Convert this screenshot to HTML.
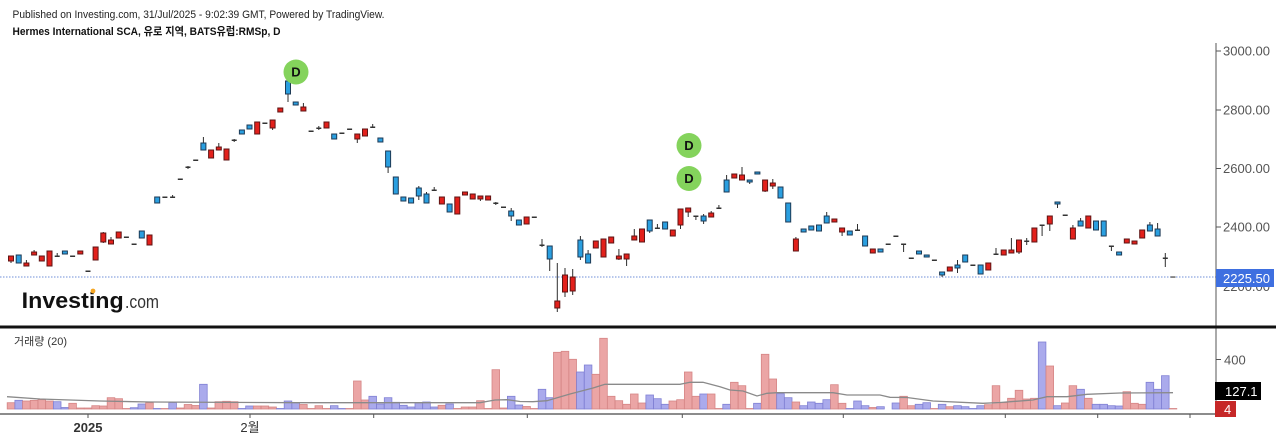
<!DOCTYPE html>
<html><head><meta charset="utf-8">
<style>
html,body{margin:0;padding:0;background:#fff;}
svg{display:block;}
.t{font-family:"Liberation Sans","Noto Sans CJK KR",sans-serif;}
.w{stroke:#2e2e2e;stroke-width:1;fill:none;}
.r{fill:#e3201b;stroke:#5e1414;stroke-width:1;}
.b{fill:#2a9fe0;stroke:#1d3a55;stroke-width:1;}
.d{fill:#333;}
.vr{fill:#eba5a5;stroke:#d58585;stroke-width:0.8;}
.vb{fill:#aaaaec;stroke:#8080d4;stroke-width:0.8;}
.lab{font-size:13px;fill:#555;}
</style></head>
<body>
<svg width="1280" height="440" viewBox="0 0 1280 440" xmlns="http://www.w3.org/2000/svg">
<rect width="1280" height="440" fill="#fff"/>
<!-- header -->
<text class="t" x="12.5" y="18" font-size="11" fill="#222" textLength="372" lengthAdjust="spacingAndGlyphs">Published on Investing.com, 31/Jul/2025 - 9:02:39 GMT, Powered by TradingView.</text>
<text class="t" x="12.5" y="35" font-size="11" font-weight="bold" fill="#111" textLength="268" lengthAdjust="spacingAndGlyphs">Hermes International SCA, 유로 지역, BATS유럽:RMSp, D</text>

<!-- dotted last price line -->
<line x1="0" y1="277" x2="1216" y2="277" stroke="#6f8fd8" stroke-width="1" stroke-dasharray="1.5,1.5"/>

<!-- logo -->
<text class="t" x="21.7" y="308" font-size="22" font-weight="bold" fill="#111" textLength="102" lengthAdjust="spacingAndGlyphs">Investing</text>
<text class="t" x="125" y="308" font-size="18" fill="#333" textLength="34" lengthAdjust="spacingAndGlyphs">.com</text>
<circle cx="93" cy="291" r="2.4" fill="#f5a623"/>

<!-- wicks -->
<path class="w" d="M11 256V263M18.7 255V263M26.4 260V266M34.1 250V255M41.8 256V261M49.5 251V266M57.2 253V257M64.9 251V254M80.3 251V254M95.6 247V260M103.3 232V243M111 237V244M118.7 232V238M141.8 231V238M149.5 235V245M157.2 197V203M172.6 195V197M188 166V169M203.4 137V150M211.1 150V158M218.8 143V150M226.5 149V160M234.2 139V142M241.9 130V134M249.5 125V129M257.2 122V134M272.6 120V130M280.3 108V112M288 81V102M295.7 102V105M303.4 103V111M318.8 126V130M326.5 122V128M334.2 134V139M357.3 134V143M365 129V136M372.7 124V128M380.4 138V142M388.1 151V173M395.8 177V194M403.4 197V201M411.1 198V203M418.8 186V200M426.5 192V203M434.2 187V190M441.9 197V204M449.6 204V212M457.3 197V214M465 192V195M472.7 194V199M480.4 196V201M488.1 196V200M495.8 202V205M511.2 208V221M518.9 220V225M526.6 217V224M542 239V247M549.7 246V271M557.3 263V312M565 268V297M572.7 269V295M580.4 236V260M588.1 250V263M595.8 241V248M603.5 239V257M611.2 237V243M618.9 249V260M626.6 254V266M634.3 229V240M642 229V242M649.7 220V233M657.4 224V228M665.1 222V229M672.8 230V236M680.5 209V229M688.2 208V217M695.9 216V220M703.6 214V224M711.2 211V217M718.9 205V208M726.6 175V192M734.3 174V178M742 167V180M749.7 180V184M757.4 172V174M765.1 180V192M772.8 179V189M780.5 187V198M788.2 203V222M795.9 237V251M803.6 229V232M811.3 226V230M819 225V231M826.7 212V223M834.4 219V222M842.1 228V236M849.8 231V235M857.5 224V230M865.1 236V246M872.8 249V253M880.5 249V252M903.6 244V252M919 251V254M926.7 255V257M942.1 272V277M949.8 267V271M957.5 260V273M965.2 255V262M980.6 265V274M988.3 263V270M996 248V254M1003.7 250V255M1011.4 238V253M1019 240V254M1026.7 238V245M1034.4 228V242M1042.1 225V236M1049.8 216V231M1057.5 202V208M1072.9 225V239M1080.6 218V226M1088.3 216V228M1096 221V230M1103.7 221V236M1111.4 246V251M1119.1 252V255M1126.8 239V243M1134.5 241V244M1142.2 230V238M1149.9 222V231M1157.6 223V236M1165.3 253V267"/>

<!-- bodies -->
<g>
<rect class="r" x="8.5" y="256" width="5" height="5"/>
<rect class="b" x="16.2" y="255" width="5" height="8"/>
<rect class="r" x="23.9" y="263" width="5" height="3"/>
<rect class="r" x="31.6" y="252" width="5" height="3"/>
<rect class="r" x="39.3" y="256" width="5" height="5"/>
<rect class="r" x="47" y="251" width="5" height="15"/>
<rect class="d" x="54.7" y="255.5" width="5" height="1.5"/>
<rect class="b" x="62.4" y="251" width="5" height="3"/>
<rect class="d" x="70.1" y="255.5" width="5" height="1.5"/>
<rect class="r" x="77.8" y="251" width="5" height="3"/>
<rect class="d" x="85.5" y="270.5" width="5" height="1.5"/>
<rect class="r" x="93.1" y="247" width="5" height="13"/>
<rect class="r" x="100.8" y="233" width="5" height="9"/>
<rect class="r" x="108.5" y="240" width="5" height="4"/>
<rect class="r" x="116.2" y="232" width="5" height="6"/>
<rect class="d" x="123.9" y="236.5" width="5" height="1.5"/>
<rect class="d" x="131.6" y="243.5" width="5" height="1.5"/>
<rect class="b" x="139.3" y="231" width="5" height="7"/>
<rect class="r" x="147" y="235" width="5" height="10"/>
<rect class="b" x="154.7" y="197" width="5" height="6"/>
<rect class="d" x="162.4" y="196.5" width="5" height="1.5"/>
<rect class="d" x="170.1" y="196.5" width="5" height="1.5"/>
<rect class="d" x="177.8" y="178.5" width="5" height="1.5"/>
<rect class="d" x="185.5" y="166.5" width="5" height="1.5"/>
<rect class="d" x="193.2" y="159.5" width="5" height="1.5"/>
<rect class="b" x="200.9" y="143" width="5" height="7"/>
<rect class="r" x="208.6" y="150" width="5" height="8"/>
<rect class="r" x="216.3" y="147" width="5" height="3"/>
<rect class="r" x="224" y="149" width="5" height="11"/>
<rect class="d" x="231.7" y="139.5" width="5" height="1.5"/>
<rect class="b" x="239.4" y="130" width="5" height="4"/>
<rect class="b" x="247" y="125" width="5" height="4"/>
<rect class="r" x="254.7" y="122" width="5" height="12"/>
<rect class="d" x="262.4" y="122.5" width="5" height="1.5"/>
<rect class="r" x="270.1" y="120" width="5" height="8"/>
<rect class="r" x="277.8" y="108" width="5" height="4"/>
<rect class="b" x="285.5" y="81" width="5" height="13"/>
<rect class="b" x="293.2" y="102" width="5" height="3"/>
<rect class="r" x="300.9" y="107" width="5" height="4"/>
<rect class="d" x="308.6" y="130.5" width="5" height="1.5"/>
<rect class="d" x="316.3" y="127.5" width="5" height="1.5"/>
<rect class="r" x="324" y="122" width="5" height="6"/>
<rect class="b" x="331.7" y="134" width="5" height="5"/>
<rect class="d" x="339.4" y="132.5" width="5" height="1.5"/>
<rect class="d" x="347.1" y="128.5" width="5" height="1.5"/>
<rect class="r" x="354.8" y="134" width="5" height="5"/>
<rect class="r" x="362.5" y="129" width="5" height="7"/>
<rect class="d" x="370.2" y="126.5" width="5" height="1.5"/>
<rect class="b" x="377.9" y="138" width="5" height="4"/>
<rect class="b" x="385.6" y="151" width="5" height="16"/>
<rect class="b" x="393.3" y="177" width="5" height="17"/>
<rect class="b" x="400.9" y="197" width="5" height="4"/>
<rect class="b" x="408.6" y="198" width="5" height="5"/>
<rect class="b" x="416.3" y="188" width="5" height="8"/>
<rect class="b" x="424" y="194" width="5" height="9"/>
<rect class="d" x="431.7" y="189.5" width="5" height="1.5"/>
<rect class="r" x="439.4" y="197" width="5" height="7"/>
<rect class="b" x="447.1" y="204" width="5" height="8"/>
<rect class="r" x="454.8" y="197" width="5" height="17"/>
<rect class="r" x="462.5" y="192" width="5" height="3"/>
<rect class="r" x="470.2" y="194" width="5" height="5"/>
<rect class="r" x="477.9" y="196" width="5" height="3"/>
<rect class="r" x="485.6" y="196" width="5" height="4"/>
<rect class="d" x="493.3" y="202.5" width="5" height="1.5"/>
<rect class="d" x="501" y="206.5" width="5" height="1.5"/>
<rect class="b" x="508.7" y="211" width="5" height="5"/>
<rect class="b" x="516.4" y="220" width="5" height="5"/>
<rect class="r" x="524.1" y="217" width="5" height="7"/>
<rect class="d" x="531.8" y="216.5" width="5" height="1.5"/>
<rect class="d" x="539.5" y="244.5" width="5" height="1.5"/>
<rect class="b" x="547.2" y="246" width="5" height="13"/>
<rect class="r" x="554.8" y="301" width="5" height="7"/>
<rect class="r" x="562.5" y="275" width="5" height="17"/>
<rect class="r" x="570.2" y="277" width="5" height="14"/>
<rect class="b" x="577.9" y="240" width="5" height="17"/>
<rect class="b" x="585.6" y="254" width="5" height="9"/>
<rect class="r" x="593.3" y="241" width="5" height="7"/>
<rect class="r" x="601" y="239" width="5" height="18"/>
<rect class="r" x="608.7" y="237" width="5" height="6"/>
<rect class="r" x="616.4" y="256" width="5" height="3"/>
<rect class="r" x="624.1" y="254" width="5" height="5"/>
<rect class="r" x="631.8" y="236" width="5" height="4"/>
<rect class="r" x="639.5" y="229" width="5" height="13"/>
<rect class="b" x="647.2" y="220" width="5" height="11"/>
<rect class="d" x="654.9" y="227.5" width="5" height="1.5"/>
<rect class="b" x="662.6" y="222" width="5" height="7"/>
<rect class="r" x="670.3" y="230" width="5" height="6"/>
<rect class="r" x="678" y="209" width="5" height="16"/>
<rect class="r" x="685.7" y="208" width="5" height="4"/>
<rect class="d" x="693.4" y="215.5" width="5" height="1.5"/>
<rect class="b" x="701.1" y="216" width="5" height="5"/>
<rect class="r" x="708.7" y="213" width="5" height="4"/>
<rect class="d" x="716.4" y="207.5" width="5" height="1.5"/>
<rect class="b" x="724.1" y="180" width="5" height="12"/>
<rect class="r" x="731.8" y="174" width="5" height="4"/>
<rect class="r" x="739.5" y="175" width="5" height="5"/>
<rect class="b" x="747.2" y="180" width="5" height="2"/>
<rect class="b" x="754.9" y="172" width="5" height="2"/>
<rect class="r" x="762.6" y="180" width="5" height="11"/>
<rect class="r" x="770.3" y="183" width="5" height="3"/>
<rect class="b" x="778" y="187" width="5" height="11"/>
<rect class="b" x="785.7" y="203" width="5" height="19"/>
<rect class="r" x="793.4" y="239" width="5" height="12"/>
<rect class="b" x="801.1" y="229" width="5" height="3"/>
<rect class="b" x="808.8" y="226" width="5" height="4"/>
<rect class="b" x="816.5" y="225" width="5" height="6"/>
<rect class="b" x="824.2" y="216" width="5" height="7"/>
<rect class="r" x="831.9" y="219" width="5" height="3"/>
<rect class="r" x="839.6" y="228" width="5" height="4"/>
<rect class="b" x="847.3" y="231" width="5" height="4"/>
<rect class="d" x="855" y="229.5" width="5" height="1.5"/>
<rect class="b" x="862.6" y="236" width="5" height="10"/>
<rect class="r" x="870.3" y="249" width="5" height="4"/>
<rect class="b" x="878" y="249" width="5" height="3"/>
<rect class="d" x="885.7" y="243.5" width="5" height="1.5"/>
<rect class="d" x="893.4" y="235.5" width="5" height="1.5"/>
<rect class="d" x="901.1" y="243.5" width="5" height="1.5"/>
<rect class="d" x="908.8" y="257.5" width="5" height="1.5"/>
<rect class="b" x="916.5" y="251" width="5" height="3"/>
<rect class="b" x="924.2" y="255" width="5" height="2"/>
<rect class="d" x="931.9" y="259.5" width="5" height="1.5"/>
<rect class="b" x="939.6" y="272" width="5" height="3"/>
<rect class="r" x="947.3" y="267" width="5" height="4"/>
<rect class="b" x="955" y="265" width="5" height="3"/>
<rect class="b" x="962.7" y="255" width="5" height="7"/>
<rect class="d" x="970.4" y="264.5" width="5" height="1.5"/>
<rect class="b" x="978.1" y="265" width="5" height="9"/>
<rect class="r" x="985.8" y="263" width="5" height="7"/>
<rect class="d" x="993.5" y="253.5" width="5" height="1.5"/>
<rect class="r" x="1001.2" y="250" width="5" height="5"/>
<rect class="r" x="1008.9" y="250" width="5" height="3"/>
<rect class="r" x="1016.5" y="240" width="5" height="12"/>
<rect class="d" x="1024.2" y="240.5" width="5" height="1.5"/>
<rect class="r" x="1031.9" y="228" width="5" height="14"/>
<rect class="d" x="1039.6" y="224.5" width="5" height="1.5"/>
<rect class="r" x="1047.3" y="216" width="5" height="8"/>
<rect class="b" x="1055" y="202" width="5" height="2"/>
<rect class="d" x="1062.7" y="214.5" width="5" height="1.5"/>
<rect class="r" x="1070.4" y="228" width="5" height="11"/>
<rect class="b" x="1078.1" y="221" width="5" height="5"/>
<rect class="r" x="1085.8" y="216" width="5" height="12"/>
<rect class="b" x="1093.5" y="221" width="5" height="9"/>
<rect class="b" x="1101.2" y="221" width="5" height="15"/>
<rect class="d" x="1108.9" y="245.5" width="5" height="1.5"/>
<rect class="b" x="1116.6" y="252" width="5" height="3"/>
<rect class="r" x="1124.3" y="239" width="5" height="4"/>
<rect class="r" x="1132" y="241" width="5" height="3"/>
<rect class="r" x="1139.7" y="230" width="5" height="8"/>
<rect class="b" x="1147.4" y="225" width="5" height="6"/>
<rect class="b" x="1155.1" y="229" width="5" height="7"/>
<rect class="d" x="1162.8" y="257.5" width="5" height="1.5"/>
<rect x="1170.5" y="276.3" width="5" height="1.5" fill="#666"/>
</g>

<!-- D markers -->
<circle cx="296" cy="72" r="12.5" fill="#84d35c"/>
<text class="t" x="296" y="76.5" font-size="13" font-weight="bold" fill="#111" text-anchor="middle">D</text>
<circle cx="689" cy="145.5" r="12.5" fill="#84d35c"/>
<text class="t" x="689" y="150" font-size="13" font-weight="bold" fill="#111" text-anchor="middle">D</text>
<circle cx="689" cy="178.5" r="12.5" fill="#84d35c"/>
<text class="t" x="689" y="183" font-size="13" font-weight="bold" fill="#111" text-anchor="middle">D</text>

<!-- price axis -->
<line x1="1216" y1="43" x2="1216" y2="414" stroke="#555" stroke-width="1"/>
<path d="M1216 51H1221M1216 110H1221M1216 168.5H1221M1216 227H1221M1216 286H1221" stroke="#555" stroke-width="1"/>
<text class="t lab" x="1223" y="55.5">3000.00</text>
<text class="t lab" x="1223" y="114.5">2800.00</text>
<text class="t lab" x="1223" y="173">2600.00</text>
<text class="t lab" x="1223" y="231.5">2400.00</text>
<text class="t lab" x="1223" y="291">2200.00</text>
<rect x="1216" y="269" width="58" height="18" fill="#3e6fe0"/>
<text class="t" x="1223" y="283" font-size="13" fill="#fff">2225.50</text>

<!-- separator -->
<rect x="0" y="325.5" width="1276" height="3" fill="#111"/>

<!-- volume pane -->
<text class="t" x="14" y="345" font-size="11" fill="#333">거래량 (20)</text>
<g>
<rect class="vr" x="7.2" y="402.7" width="7.6" height="6.3"/>
<rect class="vb" x="14.9" y="400.3" width="7.6" height="8.7"/>
<rect class="vr" x="22.6" y="401" width="7.6" height="8"/>
<rect class="vr" x="30.3" y="400.3" width="7.6" height="8.7"/>
<rect class="vr" x="38" y="399.7" width="7.6" height="9.3"/>
<rect class="vr" x="45.7" y="401" width="7.6" height="8"/>
<rect class="vb" x="53.4" y="401.7" width="7.6" height="7.3"/>
<rect class="vb" x="61.1" y="407.5" width="7.6" height="1.5"/>
<rect class="vr" x="68.8" y="403.3" width="7.6" height="5.7"/>
<rect class="vr" x="76.5" y="408" width="7.6" height="1"/>
<rect class="vr" x="84.2" y="408" width="7.6" height="1"/>
<rect class="vr" x="91.8" y="405.7" width="7.6" height="3.3"/>
<rect class="vr" x="99.5" y="406" width="7.6" height="3"/>
<rect class="vr" x="107.2" y="397.7" width="7.6" height="11.3"/>
<rect class="vr" x="114.9" y="398.7" width="7.6" height="10.3"/>
<rect class="vr" x="122.6" y="408.5" width="7.6" height="0.5"/>
<rect class="vb" x="130.3" y="407.7" width="7.6" height="1.3"/>
<rect class="vb" x="138" y="404" width="7.6" height="5"/>
<rect class="vr" x="145.7" y="402.7" width="7.6" height="6.3"/>
<rect class="vb" x="153.4" y="408.5" width="7.6" height="0.5"/>
<rect class="vr" x="161.1" y="408.5" width="7.6" height="0.5"/>
<rect class="vb" x="168.8" y="402.5" width="7.6" height="6.5"/>
<rect class="vr" x="176.5" y="408" width="7.6" height="1"/>
<rect class="vr" x="184.2" y="404.5" width="7.6" height="4.5"/>
<rect class="vr" x="191.9" y="405.5" width="7.6" height="3.5"/>
<rect class="vb" x="199.6" y="384.3" width="7.6" height="24.7"/>
<rect class="vr" x="207.3" y="408" width="7.6" height="1"/>
<rect class="vr" x="215" y="401.7" width="7.6" height="7.3"/>
<rect class="vr" x="222.7" y="401.3" width="7.6" height="7.7"/>
<rect class="vr" x="230.4" y="401.7" width="7.6" height="7.3"/>
<rect class="vb" x="238.1" y="408.5" width="7.6" height="0.5"/>
<rect class="vb" x="245.7" y="406" width="7.6" height="3"/>
<rect class="vr" x="253.4" y="406" width="7.6" height="3"/>
<rect class="vr" x="261.1" y="406" width="7.6" height="3"/>
<rect class="vr" x="268.8" y="407" width="7.6" height="2"/>
<rect class="vb" x="276.5" y="408.5" width="7.6" height="0.5"/>
<rect class="vb" x="284.2" y="401" width="7.6" height="8"/>
<rect class="vb" x="291.9" y="402.5" width="7.6" height="6.5"/>
<rect class="vr" x="299.6" y="404.5" width="7.6" height="4.5"/>
<rect class="vr" x="307.3" y="408.5" width="7.6" height="0.5"/>
<rect class="vr" x="315" y="405.7" width="7.6" height="3.3"/>
<rect class="vr" x="322.7" y="408.5" width="7.6" height="0.5"/>
<rect class="vb" x="330.4" y="405.7" width="7.6" height="3.3"/>
<rect class="vb" x="338.1" y="408.5" width="7.6" height="0.5"/>
<rect class="vr" x="345.8" y="408.5" width="7.6" height="0.5"/>
<rect class="vr" x="353.5" y="381" width="7.6" height="28"/>
<rect class="vr" x="361.2" y="400" width="7.6" height="9"/>
<rect class="vb" x="368.9" y="396.3" width="7.6" height="12.7"/>
<rect class="vb" x="376.6" y="404" width="7.6" height="5"/>
<rect class="vb" x="384.3" y="397.7" width="7.6" height="11.3"/>
<rect class="vb" x="392" y="402.3" width="7.6" height="6.7"/>
<rect class="vb" x="399.6" y="405.3" width="7.6" height="3.7"/>
<rect class="vb" x="407.3" y="407" width="7.6" height="2"/>
<rect class="vb" x="415" y="402.7" width="7.6" height="6.3"/>
<rect class="vb" x="422.7" y="402" width="7.6" height="7"/>
<rect class="vb" x="430.4" y="407" width="7.6" height="2"/>
<rect class="vr" x="438.1" y="405.3" width="7.6" height="3.7"/>
<rect class="vb" x="445.8" y="404" width="7.6" height="5"/>
<rect class="vr" x="453.5" y="408.5" width="7.6" height="0.5"/>
<rect class="vr" x="461.2" y="407" width="7.6" height="2"/>
<rect class="vr" x="468.9" y="407" width="7.6" height="2"/>
<rect class="vr" x="476.6" y="400.7" width="7.6" height="8.3"/>
<rect class="vr" x="484.3" y="408.5" width="7.6" height="0.5"/>
<rect class="vr" x="492" y="369.7" width="7.6" height="39.3"/>
<rect class="vr" x="499.7" y="408" width="7.6" height="1"/>
<rect class="vb" x="507.4" y="396.3" width="7.6" height="12.7"/>
<rect class="vb" x="515.1" y="405" width="7.6" height="4"/>
<rect class="vr" x="522.8" y="406.5" width="7.6" height="2.5"/>
<rect class="vr" x="530.5" y="408.5" width="7.6" height="0.5"/>
<rect class="vb" x="538.2" y="389.3" width="7.6" height="19.7"/>
<rect class="vb" x="545.9" y="397.7" width="7.6" height="11.3"/>
<rect class="vr" x="553.5" y="352.3" width="7.6" height="56.7"/>
<rect class="vr" x="561.2" y="351.3" width="7.6" height="57.7"/>
<rect class="vr" x="568.9" y="359.3" width="7.6" height="49.7"/>
<rect class="vb" x="576.6" y="372" width="7.6" height="37"/>
<rect class="vb" x="584.3" y="365" width="7.6" height="44"/>
<rect class="vr" x="592" y="374.3" width="7.6" height="34.7"/>
<rect class="vr" x="599.7" y="338.3" width="7.6" height="70.7"/>
<rect class="vr" x="607.4" y="396.3" width="7.6" height="12.7"/>
<rect class="vr" x="615.1" y="400.7" width="7.6" height="8.3"/>
<rect class="vr" x="622.8" y="404.3" width="7.6" height="4.7"/>
<rect class="vr" x="630.5" y="394" width="7.6" height="15"/>
<rect class="vr" x="638.2" y="403" width="7.6" height="6"/>
<rect class="vb" x="645.9" y="395" width="7.6" height="14"/>
<rect class="vb" x="653.6" y="398.7" width="7.6" height="10.3"/>
<rect class="vb" x="661.3" y="404.3" width="7.6" height="4.7"/>
<rect class="vr" x="669" y="401" width="7.6" height="8"/>
<rect class="vr" x="676.7" y="399.7" width="7.6" height="9.3"/>
<rect class="vr" x="684.4" y="372" width="7.6" height="37"/>
<rect class="vr" x="692.1" y="396.3" width="7.6" height="12.7"/>
<rect class="vb" x="699.8" y="394" width="7.6" height="15"/>
<rect class="vr" x="707.4" y="394" width="7.6" height="15"/>
<rect class="vr" x="715.1" y="408.5" width="7.6" height="0.5"/>
<rect class="vb" x="722.8" y="404.3" width="7.6" height="4.7"/>
<rect class="vr" x="730.5" y="382.3" width="7.6" height="26.7"/>
<rect class="vr" x="738.2" y="385.7" width="7.6" height="23.3"/>
<rect class="vr" x="745.9" y="408.5" width="7.6" height="0.5"/>
<rect class="vb" x="753.6" y="403.3" width="7.6" height="5.7"/>
<rect class="vr" x="761.3" y="354.3" width="7.6" height="54.7"/>
<rect class="vr" x="769" y="379" width="7.6" height="30"/>
<rect class="vb" x="776.7" y="393.7" width="7.6" height="15.3"/>
<rect class="vb" x="784.4" y="397.7" width="7.6" height="11.3"/>
<rect class="vr" x="792.1" y="402" width="7.6" height="7"/>
<rect class="vb" x="799.8" y="405.7" width="7.6" height="3.3"/>
<rect class="vb" x="807.5" y="402" width="7.6" height="7"/>
<rect class="vb" x="815.2" y="403.3" width="7.6" height="5.7"/>
<rect class="vb" x="822.9" y="399.7" width="7.6" height="9.3"/>
<rect class="vr" x="830.6" y="384.7" width="7.6" height="24.3"/>
<rect class="vr" x="838.3" y="403.3" width="7.6" height="5.7"/>
<rect class="vb" x="846" y="408.5" width="7.6" height="0.5"/>
<rect class="vb" x="853.7" y="401" width="7.6" height="8"/>
<rect class="vb" x="861.3" y="405.7" width="7.6" height="3.3"/>
<rect class="vr" x="869" y="407.5" width="7.6" height="1.5"/>
<rect class="vb" x="876.7" y="406.7" width="7.6" height="2.3"/>
<rect class="vb" x="892.1" y="403" width="7.6" height="6"/>
<rect class="vr" x="899.8" y="396.3" width="7.6" height="12.7"/>
<rect class="vr" x="907.5" y="405.7" width="7.6" height="3.3"/>
<rect class="vb" x="915.2" y="404.3" width="7.6" height="4.7"/>
<rect class="vb" x="922.9" y="402.7" width="7.6" height="6.3"/>
<rect class="vr" x="930.6" y="408.5" width="7.6" height="0.5"/>
<rect class="vb" x="938.3" y="404.3" width="7.6" height="4.7"/>
<rect class="vr" x="946" y="406.7" width="7.6" height="2.3"/>
<rect class="vb" x="953.7" y="405.7" width="7.6" height="3.3"/>
<rect class="vb" x="961.4" y="406.7" width="7.6" height="2.3"/>
<rect class="vb" x="969.1" y="408.5" width="7.6" height="0.5"/>
<rect class="vb" x="976.8" y="405.7" width="7.6" height="3.3"/>
<rect class="vr" x="984.5" y="404.7" width="7.6" height="4.3"/>
<rect class="vr" x="992.2" y="385.7" width="7.6" height="23.3"/>
<rect class="vr" x="999.9" y="402.7" width="7.6" height="6.3"/>
<rect class="vr" x="1007.6" y="398.3" width="7.6" height="10.7"/>
<rect class="vr" x="1015.2" y="390.3" width="7.6" height="18.7"/>
<rect class="vr" x="1022.9" y="399" width="7.6" height="10"/>
<rect class="vr" x="1030.6" y="398.3" width="7.6" height="10.7"/>
<rect class="vb" x="1038.3" y="342" width="7.6" height="67"/>
<rect class="vr" x="1046" y="366" width="7.6" height="43"/>
<rect class="vb" x="1053.7" y="405.7" width="7.6" height="3.3"/>
<rect class="vr" x="1061.4" y="403" width="7.6" height="6"/>
<rect class="vr" x="1069.1" y="385.7" width="7.6" height="23.3"/>
<rect class="vb" x="1076.8" y="389.3" width="7.6" height="19.7"/>
<rect class="vr" x="1084.5" y="398.3" width="7.6" height="10.7"/>
<rect class="vb" x="1092.2" y="404.3" width="7.6" height="4.7"/>
<rect class="vb" x="1099.9" y="404.3" width="7.6" height="4.7"/>
<rect class="vb" x="1107.6" y="405.7" width="7.6" height="3.3"/>
<rect class="vb" x="1115.3" y="406" width="7.6" height="3"/>
<rect class="vr" x="1123" y="391.7" width="7.6" height="17.3"/>
<rect class="vr" x="1130.7" y="403.3" width="7.6" height="5.7"/>
<rect class="vr" x="1138.4" y="404.3" width="7.6" height="4.7"/>
<rect class="vb" x="1146.1" y="382.3" width="7.6" height="26.7"/>
<rect class="vb" x="1153.8" y="389.3" width="7.6" height="19.7"/>
<rect class="vb" x="1161.5" y="375.7" width="7.6" height="33.3"/>
<rect class="vr" x="1169.2" y="408.5" width="7.6" height="0.5"/>
</g>
<!-- volume MA -->
<polyline fill="none" stroke="#8a8a8a" stroke-width="1.3" points="7,396.7 40,399 100,401 150,402 300,402.7 480,402.7 495,400 507,399.7 520,401.5 533,401.7 547,400.7 570,394 593,388 605,384.3 680,384.3 690,382.3 703,382.3 720,386.7 730,390 743,391 757,396 767,393.3 777,392.7 833,392.7 847,395 880,395 890,397.3 907,397.5 933,401 983,403.3 1000,402.5 1033,400 1047,396.7 1067,396.7 1087,394.3 1120,393 1173,392.7"/>

<!-- bottom axis -->
<line x1="0" y1="414" x2="1216" y2="414" stroke="#666" stroke-width="1.5"/>
<path d="M88 414V418M250 414V418M373.7 414V418M527.3 414V418M682.3 414V418M843.3 414V418M1005.3 414V418M1097.7 414V418M1190 414V418" stroke="#555" stroke-width="1"/>
<text class="t" x="88" y="432" font-size="13" font-weight="bold" fill="#333" text-anchor="middle">2025</text>
<text class="t" x="250" y="432" font-size="13" fill="#333" text-anchor="middle">2월</text>

<!-- volume axis labels -->
<path d="M1216 359.5H1221M1216 391H1221M1216 409H1221" stroke="#555" stroke-width="1"/>
<text class="t lab" x="1224" y="364.5">400</text>
<rect x="1215" y="382" width="46" height="18" fill="#000"/>
<text class="t" x="1225" y="396" font-size="13" fill="#fff">127.1</text>
<rect x="1215" y="401" width="21" height="16" fill="#c62828"/>
<text class="t" x="1224" y="414" font-size="13" fill="#fff">4</text>
</svg>
</body></html>
